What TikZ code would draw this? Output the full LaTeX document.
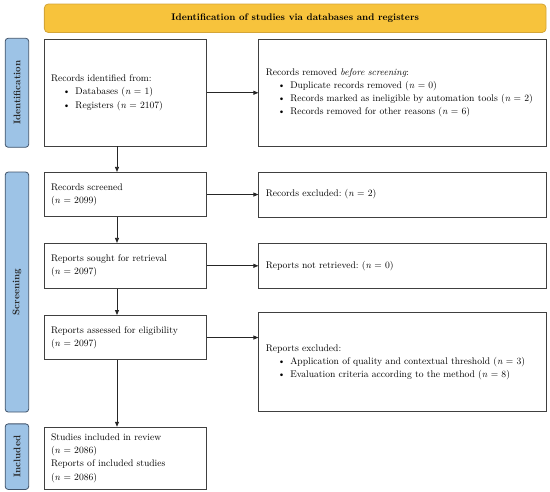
\documentclass[tikz,border=0pt]{standalone}
\usetikzlibrary{positioning,arrows.meta}
\definecolor{stagefill}{HTML}{9DC3E6}
\definecolor{stageline}{HTML}{41546B}
\definecolor{bannerfill}{HTML}{F7C33C}
\definecolor{bannerline}{HTML}{D4A537}
\newcommand{\prbullet}{\hspace*{12pt}\textbullet\hspace{5pt}}
\newcommand{\nval}[1]{(\textit{n}~=~#1)}
\frenchspacing
\begin{document}
\begin{tikzpicture}[
    x=1pt, y=-1pt,
    node distance=25pt,
    every node/.style={align=left, font=\fontsize{9.6}{13.2}\selectfont},
    box/.style={draw=black!75, line width=0.8pt, inner xsep=7pt},
    leftbox/.style={box, text width=148.5pt},
    rightbox/.style={box, text width=274pt},
    banner/.style={draw=bannerline, fill=bannerfill, line width=0.8pt,
      rounded corners=4pt, minimum width=501.7pt, minimum height=28.5pt,
      align=center, font=\fontsize{9.6}{11}\selectfont\bfseries},
    stage/.style={draw=stageline, fill=stagefill, line width=0.8pt,
      rounded corners=3pt, minimum width=23.5pt},
    stagelabel/.style={rotate=90, text=black!85,
      font=\fontsize{9.6}{11}\selectfont\bfseries},
    arr/.style={draw=black!85, line width=0.8pt,
      -{Triangle[length=5pt,width=4pt]}}
  ]
    \useasboundingbox (0,0) rectangle (550,491);
    \node[banner] (head) at (295.2,18.25)
      {Identification of studies via databases and registers};
    \node[leftbox, minimum height=106.5pt] (recs) at (125.25,92.75)
      {Records identified from:\\
       \prbullet Databases \nval{1}\\
       \prbullet Registers \nval{2107}};
    \node[leftbox, minimum height=44.5pt, below=25.5pt of recs] (screened)
      {Records screened\\\nval{2099}};
    \node[leftbox, minimum height=45pt, below=25.7pt of screened] (sought)
      {Reports sought for retrieval\\\nval{2097}};
    \node[leftbox, minimum height=44.3pt, below=26.3pt of sought] (assessed)
      {Reports assessed for eligibility\\\nval{2097}};
    \node[leftbox, minimum height=62pt, below=66.7pt of assessed] (studies)
      {Studies included in review\\\nval{2086}\\
       Reports of included studies\\\nval{2086}};
    \node[rightbox, minimum height=106.5pt, right=51.5pt of recs] (removed)
      {Records removed \textit{before screening}:\\
       \prbullet Duplicate records removed \nval{0}\\
       \prbullet Records marked as ineligible by automation tools \nval{2}\\
       \prbullet Records removed for other reasons \nval{6}};
    \node[rightbox, minimum height=45pt, right=51.5pt of screened] (excl)
      {Records excluded: \nval{2}};
    \node[rightbox, minimum height=45.6pt, right=51.5pt of sought] (notret)
      {Reports not retrieved: \nval{0}};
    \node[rightbox, minimum height=98.8pt, below=23.4pt of notret] (rexcl)
      {Reports excluded:\\
       \prbullet Application of quality and contextual threshold \nval{3}\\
       \prbullet Evaluation criteria according to the method \nval{8}};
    \node[stage, minimum height=109pt, left=14.5pt of recs] (idbar) {};
    \node[stage, minimum height=240pt, below=24pt of idbar] (scrbar) {};
    \node[stage, minimum height=65.6pt, below=11pt of scrbar] (incbar) {};
    \node[stagelabel] (idlbl) at (idbar) {Identification};
    \node[stagelabel] (scrlbl) at (scrbar) {Screening};
    \node[stagelabel] (inclbl) at (incbar) {Included};
    \coordinate (spine) at (117,0);
    \draw[arr] (recs.south -| spine) -- (screened.north -| spine);
    \draw[arr] (screened.south -| spine) -- (sought.north -| spine);
    \draw[arr] (sought.south -| spine) -- (assessed.north -| spine);
    \draw[arr] (assessed.south -| spine) -- (studies.north -| spine);
    \draw[arr] (recs.east) -- (removed.west);
    \draw[arr] (screened.east) -- (excl.west);
    \draw[arr] (sought.east) -- (notret.west);
    \draw[arr] (assessed.east) -- (assessed.east -| rexcl.west);
  \end{tikzpicture}
\end{document}
